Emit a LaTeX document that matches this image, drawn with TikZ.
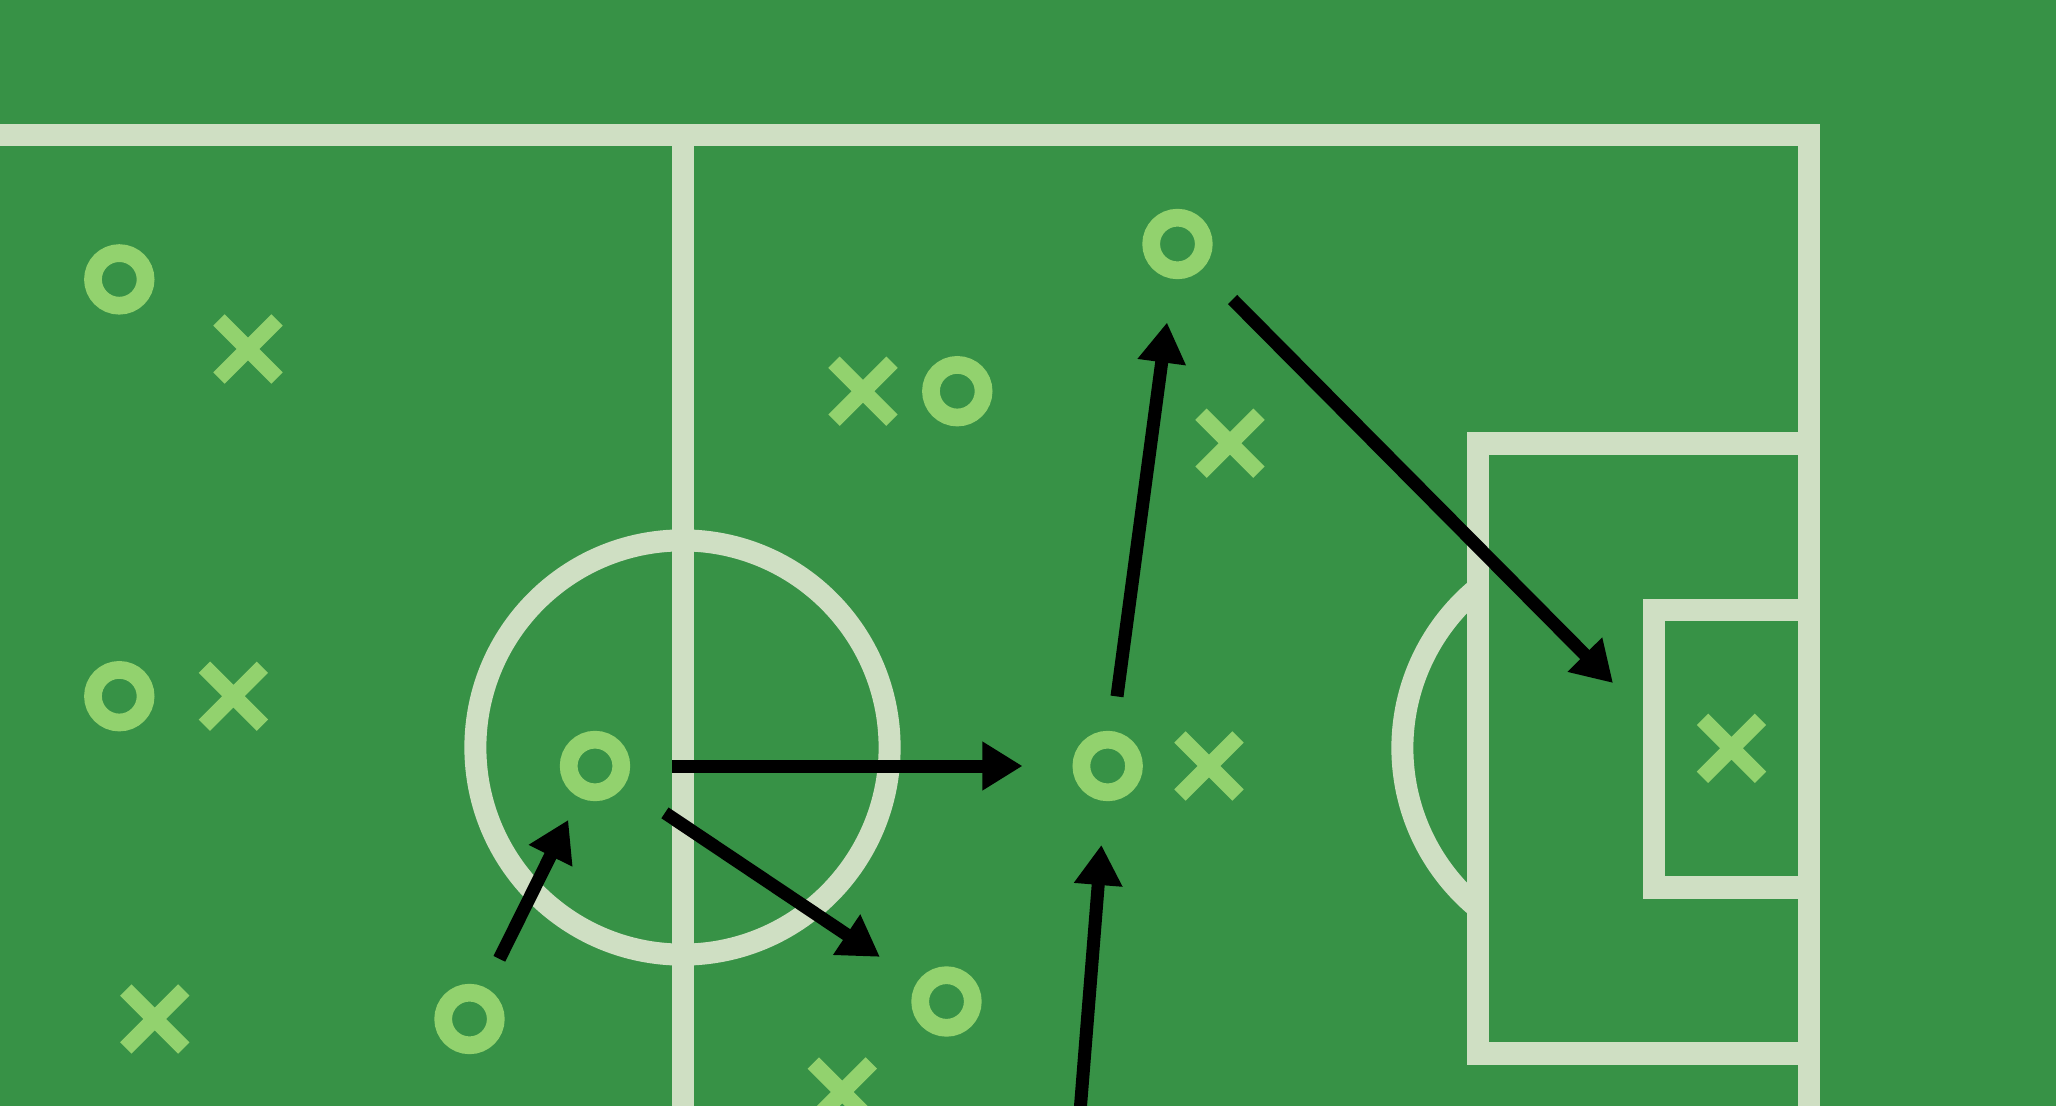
\documentclass[tikz,border=0pt]{standalone}
\usetikzlibrary{arrows.meta,shapes.misc}
\definecolor{pitch}{RGB}{55,146,70}
\definecolor{chalk}{RGB}{207,223,195}
\definecolor{marker}{RGB}{146,210,110}
\tikzset{
  pitchline/.style={draw=chalk, line width=2.2mm, line join=miter},
  attacker/.style={circle, draw=marker, line width=1.77mm, minimum size=5.26mm, inner sep=0pt},
  defender/.style={cross out, draw=marker, line width=1.6mm, minimum size=5.8mm, inner sep=0pt, outer sep=0pt},
  passline/.style={-{Triangle[length=4mm,width=4.6mm]}, line width=1.3mm, black},
}
\begin{document}
\begin{tikzpicture}[x=0.01cm, y=-0.01cm]
\useasboundingbox (0,0) rectangle (2056,1106);
\clip (0,0) rectangle (2056,1106);
\fill[pitch] (0,0) rectangle (2056,1106);

% pitch markings
\draw[pitchline] (-30,135.2) -- (1809,135.2) -- (1809,1140);
\draw[pitchline] (683,135.2) -- (683,1140);
\draw[pitchline] (682.5,747.5) circle[radius=2.07cm];
\coordinate (spot) at (1609.5,748);
\draw[pitchline] (spot) ++(129.55:2.07cm) arc[start angle=129.55, end angle=230.45, radius=2.07cm];
\draw[pitchline] (1809,443.5) -- (1477.7,443.5) -- (1477.7,1053.5) -- (1809,1053.5);
\draw[pitchline] (1809,610) -- (1654,610) -- (1654,887.5) -- (1809,887.5);

% players
\node[attacker] (a1) at (119.3,279.4) {};
\node[attacker] (a2) at (119.3,696.2) {};
\node[attacker] (a3) at (595,766) {};
\node[attacker] (a4) at (469.5,1019) {};
\node[attacker] (a5) at (957.3,391.2) {};
\node[attacker] (a6) at (946.5,1001.5) {};
\node[attacker] (a7) at (1177.5,244) {};
\node[attacker] (a8) at (1107.7,766) {};

\node[defender] (d1) at (248,349) {};
\node[defender] (d2) at (233.4,696.2) {};
\node[defender] (d3) at (154.8,1019) {};
\node[defender] (d4) at (863,391.2) {};
\node[defender] (d5) at (842.3,1092) {};
\node[defender] (d6) at (1230,443.2) {};
\node[defender] (d7) at (1209,766) {};
\node[defender] (d8) at (1731.5,748.3) {};

% moves
\coordinate (shot) at (1613,683);
\coordinate (run) at (1079,1125);
\draw[passline, shorten <=4.2mm, shorten >=5mm] (a3) -- (a8);
\draw[passline, shorten <=4.9mm, shorten >=4.5mm] (a3) -- (a6);
\draw[passline, shorten <=3.2mm, shorten >=2.5mm] (a4) -- (a3);
\draw[passline, shorten <=3.5mm, shorten >=4.4mm] (a8) -- (a7);
\draw[passline, shorten <=4.3mm] (a7) -- (shot);
\draw[passline, shorten >=4.4mm] (run) -- (a8);
\end{tikzpicture}
\end{document}
